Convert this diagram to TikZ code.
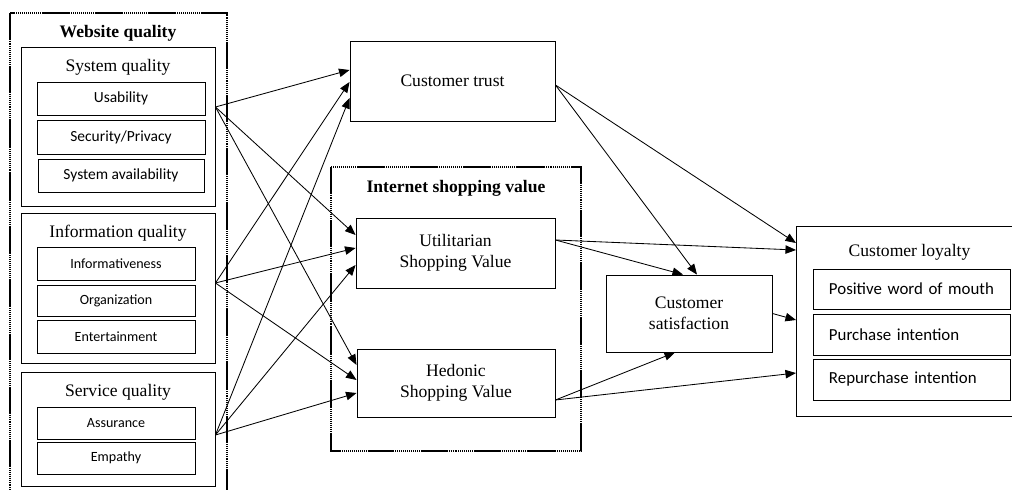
\documentclass[tikz,border=0pt]{standalone}
\usepackage{fontspec}
\setmainfont{Liberation Serif}
\newfontfamily\carlito{Carlito}
\usetikzlibrary{arrows.meta}

\begin{document}
\begin{tikzpicture}[
  x=0.025cm, y=-0.025cm,
  box/.style={draw, line width=0.6pt, inner sep=0pt, align=center, font=\fontsize{12.5}{15}\selectfont},
  item/.style={draw, line width=0.6pt, inner sep=0pt, font=\carlito\fontsize{10}{12}\selectfont},
  sysitem/.style={item, font=\carlito\fontsize{11}{13}\selectfont},
  loyitem/.style={draw, line width=0.6pt, inner xsep=0.4cm, inner ysep=0pt, text width=4.125cm, align=left, font=\carlito\fontsize{12}{14}\selectfont},
  grp/.style={draw, line width=0.6pt, inner sep=0pt},
  outer/.style={draw, line width=1pt, dash pattern=on 19pt off 19pt,
    preaction={draw, line width=0.9pt, dash pattern=on 0.7pt off 0.7pt}},
  head/.style={font=\fontsize{12.5}{15}\selectfont},
  boldhead/.style={font=\bfseries\fontsize{12.5}{15}\selectfont},
  arr/.style={-{Triangle[length=7.5pt,width=6pt]}, line width=0.6pt}
]
\useasboundingbox (0,0) rectangle (1012,490);

% website quality
\draw[outer] (10,13) rectangle (227,520);
\node[boldhead] (webq) at (118,33) {Website quality};

\node[grp, minimum width=4.85cm, minimum height=3.975cm] (sysq) at (118,126.5) {};
\node[head] (sysqt) at (118,67) {System quality};
\node[sysitem, minimum width=4.2cm, minimum height=0.825cm] (usab) at (121,98.5) {Usability};
\node[sysitem, minimum width=4.2cm, minimum height=0.85cm] (secu) at (121,137) {Security/Privacy};
\node[sysitem, minimum width=4.15cm, minimum height=0.825cm] (avail) at (121,175.5) {System availability};

\node[grp, minimum width=4.85cm, minimum height=3.75cm] (infq) at (118,288) {};
\node[head] (infqt) at (118,233) {Information quality};
\node[item, minimum width=3.95cm, minimum height=0.825cm] (inform) at (116,263.5) {Informativeness};
\node[item, minimum width=3.95cm, minimum height=0.775cm] (organ) at (116,300.5) {Organization};
\node[item, minimum width=3.95cm, minimum height=0.825cm] (enter) at (116,336.5) {Entertainment};

\node[grp, minimum width=4.85cm, minimum height=2.85cm] (servq) at (118,429) {};
\node[head] (servqt) at (118,392) {Service quality};
\node[item, minimum width=3.95cm, minimum height=0.8cm] (assur) at (116,423) {Assurance};
\node[item, minimum width=3.95cm, minimum height=0.8cm] (empat) at (116,458) {Empathy};

% middle
\node[box, minimum width=5.125cm, minimum height=2cm] (trust) at (452.5,81) {Customer trust};

\draw[outer] (331,167) rectangle (581,451);
\node[boldhead] (isv) at (456,188) {Internet shopping value};
\node[box, minimum width=4.975cm, minimum height=1.75cm] (util) at (455.5,253) {Utilitarian\\Shopping Value};
\node[box, minimum width=4.95cm, minimum height=1.7cm] (hedo) at (456,383) {Hedonic\\Shopping Value};

\node[box, minimum width=4.15cm, minimum height=1.925cm] (sat) at (689,313.5) {Customer\\satisfaction};

% loyalty
\draw[line width=0.6pt] (1020,226) -- (796,226) -- (796,416) -- (1020,416);
\node[head] (loyt) at (909.5,252) {Customer loyalty};
\node[loyitem, minimum height=1cm] (wom) at (911.5,289) {Positive word of mouth};
\node[loyitem, minimum height=1.025cm] (purch) at (911.5,334.5) {Purchase intention};
\node[loyitem, minimum height=1.025cm] (repur) at (911.5,379.5) {Repurchase intention};
\coordinate (loy) at (796,320);

% website quality -> trust / value
\coordinate (sq) at (sysq.east |- 0,107);
\coordinate (iq) at (infq.east |- 0,283);
\coordinate (sv) at (servq.east |- 0,435);
\draw[arr] (sq) -- (trust.west |- 0,70);
\draw[arr] (sq) -- (util.west |- 0,235);
\draw[arr] (sq) -- (hedo.west |- 0,365);
\draw[arr] (iq) -- (trust.west |- 0,82);
\draw[arr] (iq) -- (util.west |- 0,248);
\draw[arr] (iq) -- (hedo.west |- 0,380);
\draw[arr] (sv) -- (trust.west |- 0,98);
\draw[arr] (sv) -- (util.west |- 0,265);
\draw[arr] (sv) -- (hedo.west |- 0,393);

% right side
\draw[arr] (trust.east |- 0,85) -- (697,0 |- sat.north);
\draw[arr] (trust.east |- 0,85) -- (loy |- 0,243);
\draw[arr] (util.east |- 0,240) -- (683,0 |- sat.north);
\draw[arr] (util.east |- 0,240) -- (loy |- 0,250);
\draw[arr] (hedo.east |- 0,400) -- (675,0 |- sat.south);
\draw[arr] (hedo.east |- 0,400) -- (loy |- 0,373);
\draw[arr] (sat.east) -- (loy);
\end{tikzpicture}
\end{document}
